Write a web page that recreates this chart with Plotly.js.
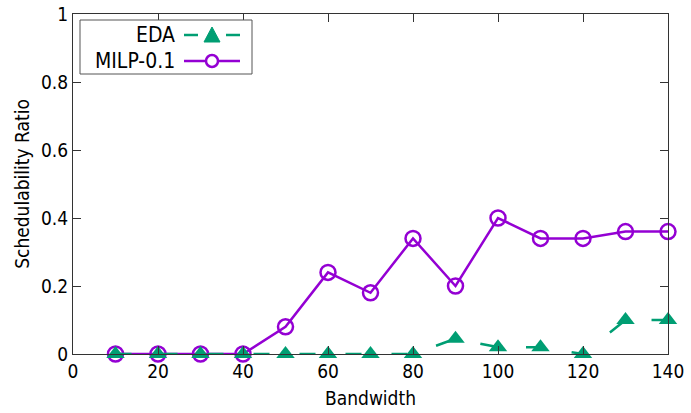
<!DOCTYPE html>
<html><head><meta charset="utf-8">
<script src="https://cdn.plot.ly/plotly-3.0.1.min.js"></script>
<style>html,body{margin:0;padding:0;background:#fff}</style>
</head><body>
<div id="chart" style="width:691px;height:413px"></div>
<script>
const bandwidth = [10, 20, 30, 40, 50, 60, 70, 80, 90, 100, 110, 120, 130, 140];
const edaValues = [0, 0, 0, 0, 0, 0, 0, 0, 0.045, 0.02, 0.02, 0, 0.1, 0.1];
const milpValues = [0, 0, 0, 0, 0.08, 0.24, 0.18, 0.34, 0.2, 0.4, 0.34, 0.34, 0.36, 0.36];
const xTicks = [0, 20, 40, 60, 80, 100, 120, 140];
const yTicks = [0, 0.2, 0.4, 0.6, 0.8, 1];
const yTickLabels = ['0', '0.2', '0.4', '0.6', '0.8', '1'];
const seriesNames = ['EDA', 'MILP-0.1'];

const green = '#009e73', purple = '#9400d3';
const font = {family: 'DejaVu Sans Condensed, DejaVu Sans, sans-serif', size: 19, color: '#000'};

const traces = [
  {x: bandwidth, y: milpValues, name: seriesNames[1], mode: 'lines+markers',
   line: {color: purple, width: 2.5},
   marker: {symbol: 'circle-open', size: 15, color: purple, line: {width: 2.5, color: purple}},
   cliponaxis: false, showlegend: false},
  {x: bandwidth, y: edaValues, name: seriesNames[0], mode: 'lines+markers',
   line: {color: green, width: 2.5, dash: '16px,30px'},
   marker: {symbol: 'triangle-up', size: 16, color: green},
   cliponaxis: false, showlegend: false}
];

// custom gnuplot-style legend (pixel -> paper helpers)
const L = 73, R = 668, T = 14, B = 354;
const px = v => (v - L) / (R - L);
const py = v => 1 - (v - T) / (B - T);
const shapes = [
  {type: 'rect', xref: 'paper', yref: 'paper', x0: px(80), x1: px(252), y0: py(20), y1: py(74),
   line: {color: '#555', width: 1}, fillcolor: '#fff'},
  {type: 'line', xref: 'paper', yref: 'paper', x0: px(184), x1: px(198), y0: py(35), y1: py(35), line: {color: green, width: 2.5}},
  {type: 'line', xref: 'paper', yref: 'paper', x0: px(226), x1: px(240), y0: py(35), y1: py(35), line: {color: green, width: 2.5}},
  {type: 'path', xref: 'paper', yref: 'paper',
   path: `M ${px(204)} ${py(42)} L ${px(220)} ${py(42)} L ${px(212)} ${py(27)} Z`,
   fillcolor: green, line: {color: green, width: 1}},
  {type: 'line', xref: 'paper', yref: 'paper', x0: px(184), x1: px(240), y0: py(61), y1: py(61), line: {color: purple, width: 2.5}},
  {type: 'circle', xref: 'paper', yref: 'paper', x0: px(206), x1: px(218), y0: py(55), y1: py(67),
   line: {color: purple, width: 2.5}, fillcolor: '#fff'}
];
const annotations = [
  {xref: 'paper', yref: 'paper', x: px(177), y: py(35), text: seriesNames[0], showarrow: false,
   xanchor: 'right', yanchor: 'middle', font: {...font, size: 21}},
  {xref: 'paper', yref: 'paper', x: px(177), y: py(61), text: seriesNames[1], showarrow: false,
   xanchor: 'right', yanchor: 'middle', font: {...font, size: 21}}
];

const layout = {
  width: 691, height: 413,
  margin: {l: 73, r: 23, t: 14, b: 59},
  paper_bgcolor: '#fff', plot_bgcolor: '#fff',
  font: font,
  showlegend: false,
  xaxis: {range: [0, 140], tickvals: xTicks, ticks: 'inside', ticklen: 8, tickcolor: '#333',
          showline: true, linecolor: '#333', linewidth: 1, mirror: 'ticks', showgrid: false, zeroline: false,
          title: {text: 'Bandwidth', font: font, standoff: 10}, tickfont: font},
  yaxis: {range: [0, 1], tickvals: yTicks, ticktext: yTickLabels, ticks: 'inside', ticklen: 8, tickcolor: '#333',
          showline: true, linecolor: '#333', linewidth: 1, mirror: 'ticks', showgrid: false, zeroline: false,
          title: {text: 'Schedulability Ratio', font: font, standoff: 6}, tickfont: font},
  shapes: shapes,
  annotations: annotations
};
Plotly.newPlot('chart', traces, layout, {displayModeBar: false, staticPlot: true});
</script>
</body></html>
